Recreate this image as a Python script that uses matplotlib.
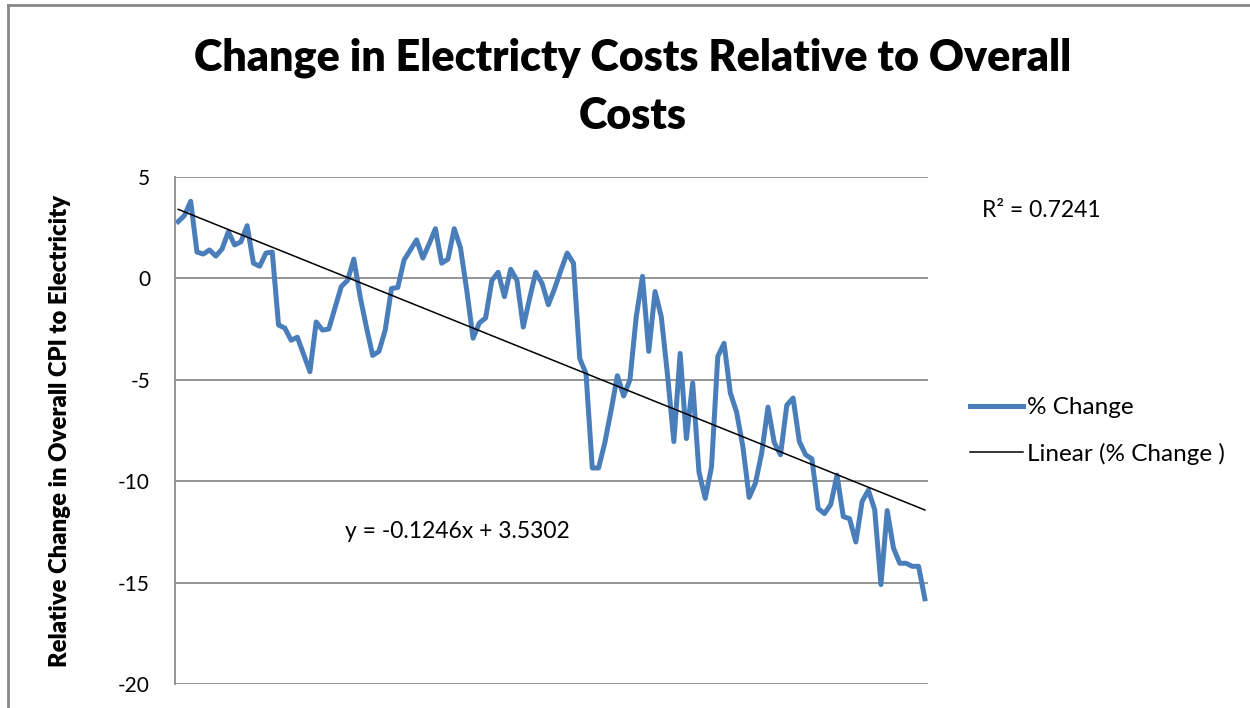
import numpy as np
import matplotlib.pyplot as plt
from matplotlib.lines import Line2D

# %% data
pct_change = [2.8, 3.1, 3.8, 1.3, 1.2, 1.4, 1.1, 1.45, 2.3, 1.65,
              1.8, 2.6, 0.75, 0.6, 1.25, 1.3, -2.3, -2.45, -3.05, -2.9,
              -3.75, -4.6, -2.15, -2.55, -2.5, -1.45, -0.4, -0.1, 0.95, -0.9,
              -2.4, -3.8, -3.6, -2.55, -0.5, -0.45, 0.9, 1.4, 1.9, 1.0,
              1.7, 2.45, 0.75, 0.95, 2.45, 1.5, -0.6, -2.95, -2.2, -1.95,
              -0.1, 0.3, -0.9, 0.45, -0.1, -2.4, -1.0, 0.3, -0.25, -1.3,
              -0.5, 0.4, 1.25, 0.75, -3.95, -4.7, -9.35, -9.35, -8.1, -6.5,
              -4.8, -5.8, -5.0, -1.9, 0.1, -3.6, -0.65, -1.9, -4.8, -8.05,
              -3.7, -7.9, -5.15, -9.55, -10.85, -9.3, -3.85, -3.2, -5.65, -6.6,
              -8.3, -10.8, -10.1, -8.6, -6.35, -8.1, -8.7, -6.25, -5.9, -8.05,
              -8.7, -8.9, -11.35, -11.6, -11.15, -9.7, -11.75, -11.85, -13.0, -11.0,
              -10.45, -11.4, -15.1, -11.45, -13.3, -14.05, -14.05, -14.2, -14.2, -15.8]
trend_slope = -0.1246
trend_intercept = 3.5302
r_squared = 0.7241
y_ticks = [5, 0, -5, -10, -15, -20]

x = np.arange(1, len(pct_change) + 1)
trend = trend_slope * x + trend_intercept

# %% plot
plt.rcParams['font.family'] = ['Lato', 'DejaVu Sans']

fig = plt.figure(figsize=(12.5, 7.08), dpi=100)
ax = fig.add_axes([0.14, 0.034, 0.6024, 0.716])

ax.plot(x, pct_change, color='#4a7ebb', linewidth=3.6, solid_joinstyle='round')
ax.plot(x, trend, color='black', linewidth=1.1)

ax.set_xlim(0.5, len(pct_change) + 0.5)
ax.set_ylim(-20, 5)
ax.set_yticks(y_ticks)
ax.set_yticklabels([str(t) for t in y_ticks], fontsize=15)
ax.tick_params(axis='y', length=0, pad=18)
ax.set_xticks([])
ax.grid(axis='y', color='#8c8c8c', linewidth=1.3)
ax.set_axisbelow(True)
for s in ['top', 'right', 'bottom']:
    ax.spines[s].set_visible(False)
ax.spines['left'].set_color('#8c8c8c')
ax.spines['left'].set_linewidth(1.3)

fig.text(0.048, 0.392, 'Relative Change in Overall CPI to Electricity', fontsize=17.2,
         fontweight='heavy', rotation=90, ha='center', va='center')

fig.text(0.506, 0.878, 'Change in Electricty Costs Relative to Overall\nCosts',
         ha='center', va='center', fontsize=31, fontweight='heavy', linespacing=1.55)

fig.text(0.786, 0.703, 'R² = %.4f' % r_squared, fontsize=16.5, va='center')
fig.text(0.276, 0.249, 'y = %.4fx + %.4f' % (trend_slope, trend_intercept),
         fontsize=16.5, va='center')

handles = [Line2D([], [], color='#4a7ebb', linewidth=3.6),
           Line2D([], [], color='black', linewidth=1.1)]
fig.legend(handles, ['% Change', 'Linear (% Change )'], loc='upper left',
           bbox_to_anchor=(0.776, 0.439), frameon=False, fontsize=17.5,
           borderpad=0, borderaxespad=0,
           handlelength=2.2, handletextpad=0.15, labelspacing=1.01)

# frame around the whole chart
fig.add_artist(Line2D([0.0064, 0.0064], [0, 0.993], color='#888888', linewidth=2,
                      transform=fig.transFigure))
fig.add_artist(Line2D([0.0064, 1.0], [0.993, 0.993], color='#888888', linewidth=2,
                      transform=fig.transFigure))

plt.savefig('out.png', dpi=100)
